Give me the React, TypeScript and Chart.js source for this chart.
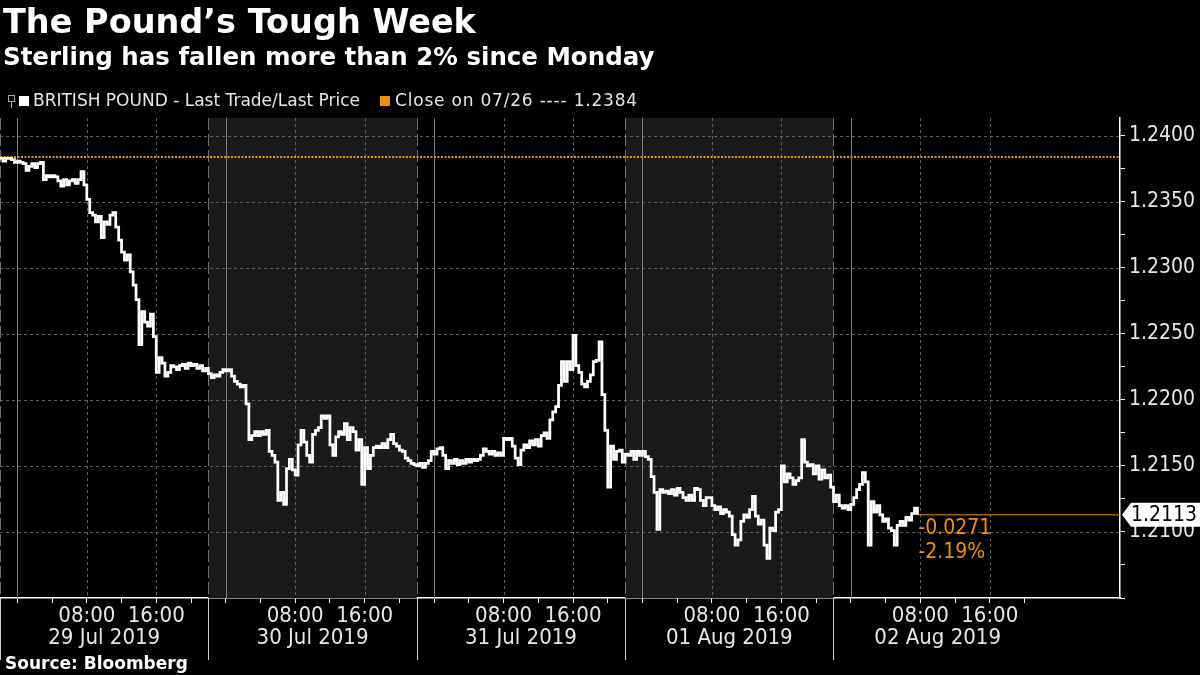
import React, { useEffect, useRef } from 'react';
import { Chart, registerables } from 'chart.js';

Chart.register(...registerables);

// ---------- data ----------
// Time is expressed in hours relative to 29 Jul 2019 00:00.
// Samples every 20 minutes, starting 28 Jul 2019 22:00 (session open).
const START_HOUR = -2;
const STEP_HOURS = 1 / 3;
const PRICES: number[] = [
  1.2383, 1.2381, 1.2383, 1.2383, 1.2382, 1.2380, 1.2381, 1.2380, 1.2379, 1.2374,
  1.2377, 1.2379, 1.2376, 1.2379, 1.2380, 1.2367, 1.2370, 1.2369, 1.2370, 1.2369,
  1.2366, 1.2362, 1.2367, 1.2363, 1.2366, 1.2367, 1.2364, 1.2367, 1.2373, 1.2363,
  1.2352, 1.2342, 1.2340, 1.2335, 1.2339, 1.2323, 1.2335, 1.2333, 1.2340, 1.2342,
  1.2331, 1.2321, 1.2312, 1.2306, 1.2310, 1.2297, 1.2287, 1.2276, 1.2242, 1.2267,
  1.2259, 1.2256, 1.2265, 1.2248, 1.2221, 1.2232, 1.2228, 1.2218, 1.2221, 1.2226,
  1.2225, 1.2223, 1.2226, 1.2227, 1.2224, 1.2228, 1.2226, 1.2227, 1.2224, 1.2226,
  1.2222, 1.2224, 1.2220, 1.2217, 1.2219, 1.2218, 1.2221, 1.2223, 1.2222, 1.2223,
  1.2218, 1.2214, 1.2212, 1.2210, 1.2211, 1.2197, 1.2170, 1.2173, 1.2176, 1.2173,
  1.2176, 1.2174, 1.2177, 1.2161, 1.2158, 1.2153, 1.2124, 1.2130, 1.2121, 1.2148,
  1.2155, 1.2147, 1.2143, 1.2166, 1.2177, 1.2168, 1.2158, 1.2153, 1.2174, 1.2177,
  1.2179, 1.2188, 1.2186, 1.2188, 1.2166, 1.2158, 1.2172, 1.2176, 1.2174, 1.2182,
  1.2170, 1.2179, 1.2176, 1.2162, 1.2170, 1.2136, 1.2164, 1.2148, 1.2158, 1.2164,
  1.2165, 1.2164, 1.2167, 1.2164, 1.2170, 1.2174, 1.2167, 1.2165, 1.2162, 1.2161,
  1.2156, 1.2154, 1.2152, 1.2151, 1.2150, 1.2152, 1.2149, 1.2152, 1.2154, 1.2161,
  1.2159, 1.2163, 1.2164, 1.2158, 1.2148, 1.2154, 1.2152, 1.2155, 1.2151, 1.2154,
  1.2152, 1.2155, 1.2153, 1.2155, 1.2154, 1.2155, 1.2158, 1.2163, 1.2161, 1.2159,
  1.2161, 1.2158, 1.2160, 1.2158, 1.2171, 1.2170, 1.2171, 1.2165, 1.2156, 1.2151,
  1.2162, 1.2166, 1.2164, 1.2169, 1.2166, 1.2170, 1.2165, 1.2173, 1.2175, 1.2171,
  1.2185, 1.2191, 1.2195, 1.2211, 1.2229, 1.2214, 1.2229, 1.2223, 1.2249, 1.2226,
  1.2221, 1.2212, 1.2210, 1.2214, 1.2219, 1.2229, 1.2230, 1.2244, 1.2204, 1.2177,
  1.2134, 1.2165, 1.2155, 1.2161, 1.2162, 1.2153, 1.2159, 1.2158, 1.2161, 1.2155,
  1.2161, 1.2158, 1.2161, 1.2157, 1.2155, 1.2142, 1.2130, 1.2102, 1.2132, 1.2130,
  1.2131, 1.2129, 1.2132, 1.2128, 1.2133, 1.2130, 1.2126, 1.2124, 1.2128, 1.2124,
  1.2133, 1.2132, 1.2124, 1.2120, 1.2126, 1.2126, 1.2120, 1.2117, 1.2119, 1.2114,
  1.2117, 1.2115, 1.2112, 1.2098, 1.2090, 1.2094, 1.2108, 1.2113, 1.2111, 1.2117,
  1.2127, 1.2112, 1.2106, 1.2109, 1.2090, 1.2080, 1.2103, 1.2101, 1.2115, 1.2117,
  1.2150, 1.2138, 1.2144, 1.2141, 1.2136, 1.2139, 1.2141, 1.2170, 1.2153, 1.2150,
  1.2151, 1.2144, 1.2150, 1.2140, 1.2147, 1.2141, 1.2143, 1.2134, 1.2123, 1.2128,
  1.2120, 1.2118, 1.2120, 1.2117, 1.2121, 1.2126, 1.2132, 1.2136, 1.2145, 1.2138,
  1.2090, 1.2123, 1.2115, 1.2120, 1.2113, 1.2108, 1.2110, 1.2103, 1.2101, 1.2090,
  1.2105, 1.2108, 1.2105, 1.2111, 1.2109, 1.2114, 1.2118, 1.2113,
];
const PREV_CLOSE = 1.2384;

const X_MIN = -2;
const X_MAX = 127;
const Y_MIN = 1.205;
const Y_MAX = 1.24136;

const Y_TICKS = [
  1.205, 1.2075, 1.21, 1.2125, 1.215, 1.2175, 1.22, 1.2225,
  1.225, 1.2275, 1.23, 1.2325, 1.235, 1.2375, 1.24,
];
const Y_LABELLED = [1.21, 1.215, 1.22, 1.225, 1.23, 1.235, 1.24];

const X_TICK_HOURS = [
  0, 4, 8, 12, 16, 20, 24, 28, 32, 36, 40, 44, 48, 52, 56, 60, 64, 68,
  72, 76, 80, 84, 88, 92, 96, 100, 104, 108, 112, 116,
];
const X_TICK_LABELS: Record<number, string> = { 8: '08:00', 16: '16:00' };

const SESSION_STARTS = [-2, 22, 46, 70, 94];
const SESSION_LENGTH = 24;
const SESSION_LABELS = ['29 Jul 2019', '30 Jul 2019', '31 Jul 2019', '01 Aug 2019', '02 Aug 2019'];
const SHADED_SESSIONS = [1, 3];

// ---------- style ----------
const FONT = "'DejaVu Sans Condensed', 'DejaVu Sans', sans-serif";
const WIDE_FONT = "'DejaVu Sans', sans-serif";
const ORANGE = '#f0900c';
const TEXT = '#e6e6e6';

const near = (a: number, b: number) => Math.abs(a - b) < 1e-7;

const backdropPlugin = {
  id: 'bbgBackdrop',
  beforeDatasetsDraw(chart: any) {
    const { ctx, chartArea: a, scales } = chart;
    const xs = scales.x;
    const ys = scales.y;
    ctx.save();
    ctx.fillStyle = '#1a1a1a';
    SHADED_SESSIONS.forEach((k) => {
      const x1 = xs.getPixelForValue(SESSION_STARTS[k]);
      const x2 = xs.getPixelForValue(SESSION_STARTS[k] + SESSION_LENGTH);
      ctx.fillRect(x1, a.top, x2 - x1, a.bottom - a.top);
    });
    const line = (x1: number, y1: number, x2: number, y2: number) => {
      ctx.beginPath();
      ctx.moveTo(x1, y1);
      ctx.lineTo(x2, y2);
      ctx.stroke();
    };
    ctx.lineWidth = 1;
    ctx.strokeStyle = '#5e5e5e';
    ctx.setLineDash([3, 3]);
    Y_LABELLED.forEach((v) => {
      const py = Math.round(ys.getPixelForValue(v)) + 0.5;
      line(a.left, py, a.right, py);
    });
    X_TICK_HOURS.forEach((h) => {
      const m = ((h % 24) + 24) % 24;
      const px = Math.round(xs.getPixelForValue(h)) + 0.5;
      if (m === 0) {
        ctx.setLineDash([]);
        ctx.strokeStyle = '#7c7c7c';
        line(px, a.top, px, a.bottom);
      } else if (m === 8 || m === 16) {
        ctx.setLineDash([3, 3]);
        ctx.strokeStyle = '#5e5e5e';
        line(px, a.top, px, a.bottom);
      }
    });
    ctx.setLineDash([12, 4]);
    ctx.strokeStyle = '#6e6e6e';
    SESSION_STARTS.forEach((h) => {
      const px = Math.round(xs.getPixelForValue(h)) + 0.5;
      line(px, a.top, px, a.bottom);
    });
    ctx.restore();
  },
  afterDraw(chart: any) {
    const { ctx, chartArea: a, scales } = chart;
    const xs = scales.x;
    const ys = scales.y;
    ctx.save();
    ctx.strokeStyle = '#d0d0d0';
    ctx.lineWidth = 1;
    SESSION_STARTS.forEach((h) => {
      const px = Math.round(xs.getPixelForValue(h)) + 0.5;
      ctx.beginPath();
      ctx.moveTo(px, a.bottom);
      ctx.lineTo(px, a.bottom + 62);
      ctx.stroke();
    });
    ctx.fillStyle = TEXT;
    ctx.font = `22px ${FONT}`;
    ctx.textAlign = 'center';
    ctx.textBaseline = 'middle';
    SESSION_LABELS.forEach((lab, k) => {
      const px = xs.getPixelForValue(SESSION_STARTS[k] + SESSION_LENGTH / 2);
      ctx.fillText(lab, px, a.bottom + 40);
    });
    const lastIdx = PRICES.length - 1;
    const last = PRICES[lastIdx];
    const lastHour = START_HOUR + lastIdx * STEP_HOURS;
    const lx = xs.getPixelForValue(lastHour);
    const ly = ys.getPixelForValue(last);
    const change = last - PREV_CLOSE;
    const pct = (change / PREV_CLOSE) * 100;
    ctx.fillStyle = ORANGE;
    ctx.textAlign = 'left';
    ctx.font = `21px ${FONT}`;
    ctx.fillText(change.toFixed(4), lx + 1, ly + 14);
    ctx.fillText(pct.toFixed(2) + '%', lx + 1, ly + 38);
    const ax = a.right + 2;
    const right = chart.width;
    ctx.fillStyle = '#ffffff';
    ctx.beginPath();
    ctx.moveTo(ax, ly);
    ctx.lineTo(ax + 9, ly - 12);
    ctx.lineTo(right, ly - 12);
    ctx.lineTo(right, ly + 12);
    ctx.lineTo(ax + 9, ly + 12);
    ctx.closePath();
    ctx.fill();
    ctx.fillStyle = '#000000';
    ctx.fillText(last.toFixed(4), ax + 9, ly + 1);
    ctx.restore();
  },
};

export default function App() {
  const canvasRef = useRef<HTMLCanvasElement | null>(null);

  useEffect(() => {
    document.body.style.margin = '0';
    document.body.style.background = '#000';
    const canvas = canvasRef.current;
    if (!canvas) return;
    const lastIdx = PRICES.length - 1;
    const lastHour = START_HOUR + lastIdx * STEP_HOURS;
    const last = PRICES[lastIdx];

    const chart = new Chart(canvas, {
      type: 'line',
      data: {
        datasets: [
          {
            label: 'BRITISH POUND - Last Trade/Last Price',
            data: PRICES.map((p, i) => ({ x: START_HOUR + i * STEP_HOURS, y: p })),
            borderColor: '#ffffff',
            borderWidth: 2.75,
            stepped: true,
            pointRadius: 0,
            fill: false,
          },
          {
            label: 'Close on 07/26',
            data: [
              { x: X_MIN, y: PREV_CLOSE },
              { x: X_MAX, y: PREV_CLOSE },
            ],
            borderColor: ORANGE,
            borderWidth: 2,
            borderDash: [2, 1.5],
            pointRadius: 0,
            fill: false,
          },
          {
            label: 'Last',
            data: [
              { x: lastHour, y: last },
              { x: X_MAX, y: last },
            ],
            borderColor: ORANGE,
            borderWidth: 1,
            pointRadius: 0,
            fill: false,
          },
        ],
      },
      options: {
        animation: false,
        responsive: false,
        devicePixelRatio: 1,
        layout: { padding: { top: 118, left: 0, right: 0, bottom: 0 } },
        plugins: {
          legend: { display: false },
          title: { display: false },
          tooltip: { enabled: false },
        },
        scales: {
          x: {
            type: 'linear',
            min: X_MIN,
            max: X_MAX,
            afterBuildTicks: (s: any) => {
              s.ticks = X_TICK_HOURS.map((v) => ({ value: v }));
            },
            afterFit: (s: any) => {
              s.height = 77;
            },
            grid: {
              drawOnChartArea: false,
              drawTicks: true,
              tickLength: 5,
              tickColor: '#ffffff',
              tickWidth: 1,
            },
            border: { color: '#ffffff', width: 1.5 },
            ticks: {
              autoSkip: false,
              maxRotation: 0,
              color: TEXT,
              padding: 0,
              font: { family: FONT, size: 22 },
              callback: (v: any) => X_TICK_LABELS[((Number(v) % 24) + 24) % 24] ?? '',
            },
          },
          y: {
            type: 'linear',
            position: 'right',
            min: Y_MIN,
            max: Y_MAX,
            afterBuildTicks: (s: any) => {
              s.ticks = Y_TICKS.map((v) => ({ value: v }));
            },
            afterFit: (s: any) => {
              s.width = 80;
            },
            grid: {
              drawOnChartArea: false,
              drawTicks: true,
              tickLength: 5,
              tickColor: '#ffffff',
            },
            border: { color: '#ffffff', width: 1.5 },
            ticks: {
              autoSkip: false,
              color: TEXT,
              padding: 4,
              font: { family: FONT, size: 21 },
              callback: (v: any) =>
                Y_LABELLED.some((l) => near(l, Number(v))) ? Number(v).toFixed(4) : '',
            },
          },
        },
      },
      plugins: [backdropPlugin],
    });
    return () => chart.destroy();
  }, []);

  const abs = (s: React.CSSProperties): React.CSSProperties => ({
    position: 'absolute',
    whiteSpace: 'nowrap',
    fontFamily: WIDE_FONT,
    ...s,
  });

  return (
    <div style={{ position: 'relative', width: 1200, height: 675, background: '#000', overflow: 'hidden' }}>
      <canvas ref={canvasRef} width={1200} height={675} style={{ display: 'block', position: 'absolute', left: 0, top: 0 }} />
      <div style={abs({ left: 3, top: 5, fontSize: 33.5, lineHeight: '34px', fontWeight: 'bold', color: '#fff' })}>
        The Pound’s Tough Week
      </div>
      <div style={abs({ left: 3, top: 44, fontSize: 24.5, lineHeight: '25px', fontWeight: 'bold', color: '#fff' })}>
        Sterling has fallen more than 2% since Monday
      </div>
      <div style={abs({ left: 8, top: 95, width: 5, height: 5, border: '1px solid #aaa' })} />
      <div style={abs({ left: 11, top: 102, width: 1, height: 6, background: '#aaa' })} />
      <div style={abs({ left: 19, top: 96, width: 10, height: 10, background: '#fff' })} />
      <div style={abs({ left: 33, top: 91, fontSize: 17, lineHeight: '19px', color: TEXT })}>
        BRITISH POUND - Last Trade/Last Price
      </div>
      <div style={abs({ left: 380, top: 96, width: 10, height: 10, background: ORANGE })} />
      <div style={abs({ left: 395, top: 91, fontSize: 17, lineHeight: '19px', color: TEXT, letterSpacing: 0.8 })}>
        Close on 07/26 ---- 1.2384
      </div>
      <div style={abs({ left: 5, top: 654, fontSize: 17, lineHeight: '18px', fontWeight: 'bold', color: '#fff' })}>
        Source: Bloomberg
      </div>
    </div>
  );
}
